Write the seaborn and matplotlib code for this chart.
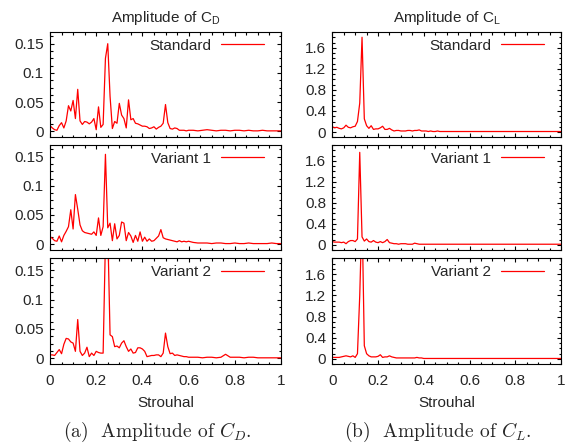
import numpy as np
import matplotlib
matplotlib.use("Agg")
import matplotlib.pyplot as plt
import seaborn as sns
from matplotlib.ticker import MultipleLocator, FuncFormatter

# Strouhal grid: 0.01 steps up to 0.6, 0.02 steps in the flat tail
strouhal = np.round(np.r_[np.arange(0, 0.605, 0.01), np.arange(0.62, 1.005, 0.02)], 2)

cd_standard = [
    0.010, 0.006, 0.003, 0.002, 0.010, 0.015, 0.006, 0.018, 0.044, 0.035,
    0.053, 0.022, 0.072, 0.018, 0.012, 0.017, 0.016, 0.013, 0.016, 0.022,
    0.003, 0.042, 0.007, 0.012, 0.125, 0.150, 0.060, 0.005, 0.017, 0.014,
    0.048, 0.028, 0.022, 0.006, 0.054, 0.020, 0.022, 0.014, 0.013, 0.011,
    0.009, 0.009, 0.008, 0.005, 0.006, 0.008, 0.004, 0.007, 0.009, 0.014,
    0.046, 0.015, 0.005, 0.004, 0.006, 0.005, 0.002, 0.002, 0.002, 0.001, 0.002,
    0.002, 0.001, 0.002, 0.003, 0.002, 0.001, 0.002, 0.002, 0.001, 0.002,
    0.002, 0.001, 0.002, 0.001, 0.001, 0.002, 0.001, 0.001, 0.001, 0.001]
cd_variant1 = [
    0.013, 0.010, 0.006, 0.005, 0.014, 0.004, 0.015, 0.022, 0.030, 0.059,
    0.026, 0.085, 0.060, 0.033, 0.023, 0.020, 0.019, 0.018, 0.017, 0.021,
    0.015, 0.045, 0.015, 0.030, 0.154, 0.028, 0.036, 0.006, 0.035, 0.009,
    0.015, 0.038, 0.036, 0.006, 0.020, 0.014, 0.003, 0.015, 0.005, 0.021,
    0.005, 0.012, 0.005, 0.009, 0.005, 0.006, 0.010, 0.014, 0.025, 0.011,
    0.009, 0.008, 0.007, 0.006, 0.005, 0.004, 0.006, 0.004, 0.005, 0.004, 0.005,
    0.003, 0.002, 0.002, 0.002, 0.001, 0.002, 0.002, 0.001, 0.001, 0.002,
    0.001, 0.001, 0.002, 0.001, 0.001, 0.001, 0.001, 0.002, 0.001, 0.001]
cd_variant2 = [
    0.006, 0.006, 0.005, 0.010, 0.015, 0.008, 0.024, 0.034, 0.033, 0.028,
    0.026, 0.012, 0.066, 0.012, 0.005, 0.009, 0.019, 0.003, 0.009, 0.005,
    0.012, 0.010, 0.009, 0.009, 0.200, 0.220, 0.040, 0.037, 0.020, 0.021,
    0.018, 0.026, 0.030, 0.020, 0.012, 0.016, 0.009, 0.010, 0.018, 0.018,
    0.016, 0.012, 0.003, 0.004, 0.005, 0.005, 0.006, 0.006, 0.003, 0.009,
    0.043, 0.020, 0.008, 0.009, 0.005, 0.006, 0.005, 0.004, 0.003, 0.003, 0.002,
    0.002, 0.002, 0.001, 0.002, 0.002, 0.001, 0.002, 0.007, 0.002, 0.002,
    0.002, 0.001, 0.002, 0.002, 0.001, 0.001, 0.001, 0.001, 0.001, 0.001]

cl_standard = [
    0.10, 0.08, 0.09, 0.07, 0.06, 0.08, 0.13, 0.09, 0.08, 0.10,
    0.11, 0.20, 0.55, 1.80, 0.25, 0.12, 0.07, 0.12, 0.05, 0.06,
    0.06, 0.08, 0.11, 0.05, 0.05, 0.07, 0.04, 0.02, 0.03, 0.03,
    0.02, 0.02, 0.02, 0.03, 0.03, 0.02, 0.03, 0.03, 0.04, 0.02,
    0.02, 0.02, 0.01, 0.02, 0.01, 0.01, 0.02, 0.01, 0.01, 0.01,
    0.01, 0.01, 0.01, 0.01, 0.01, 0.01, 0.01, 0.01, 0.01, 0.01, 0.01,
    0.01, 0.01, 0.01, 0.01, 0.01, 0.01, 0.01, 0.01, 0.01, 0.01,
    0.01, 0.01, 0.01, 0.01, 0.01, 0.01, 0.01, 0.01, 0.01, 0.01]
cl_variant1 = [
    0.06, 0.05, 0.05, 0.05, 0.04, 0.05, 0.02, 0.06, 0.08, 0.08,
    0.06, 0.11, 1.76, 0.15, 0.07, 0.11, 0.06, 0.05, 0.08, 0.05,
    0.04, 0.06, 0.04, 0.06, 0.10, 0.04, 0.03, 0.02, 0.02, 0.01,
    0.02, 0.02, 0.02, 0.01, 0.01, 0.01, 0.03, 0.02, 0.01, 0.01,
    0.01, 0.01, 0.01, 0.01, 0.01, 0.01, 0.01, 0.01, 0.01, 0.01,
    0.01, 0.01, 0.01, 0.01, 0.01, 0.01, 0.01, 0.01, 0.01, 0.01, 0.01,
    0.01, 0.01, 0.01, 0.01, 0.01, 0.01, 0.01, 0.01, 0.01, 0.01,
    0.01, 0.01, 0.01, 0.01, 0.01, 0.01, 0.01, 0.01, 0.01, 0.01]
cl_variant2 = [
    0.03, 0.03, 0.03, 0.03, 0.04, 0.05, 0.06, 0.05, 0.04, 0.06,
    0.03, 0.10, 1.20, 2.80, 0.25, 0.10, 0.06, 0.04, 0.04, 0.04,
    0.05, 0.08, 0.03, 0.04, 0.04, 0.06, 0.04, 0.03, 0.02, 0.02,
    0.02, 0.02, 0.02, 0.02, 0.02, 0.02, 0.02, 0.03, 0.02, 0.02,
    0.01, 0.01, 0.01, 0.01, 0.01, 0.01, 0.01, 0.01, 0.01, 0.01,
    0.01, 0.01, 0.01, 0.01, 0.01, 0.01, 0.01, 0.01, 0.01, 0.01, 0.01,
    0.01, 0.01, 0.01, 0.01, 0.01, 0.01, 0.01, 0.01, 0.01, 0.01,
    0.01, 0.01, 0.01, 0.01, 0.01, 0.01, 0.01, 0.01, 0.01, 0.01]

variants = ["Standard", "Variant 1", "Variant 2"]
cd_series = [cd_standard, cd_variant1, cd_variant2]
cl_series = [cl_standard, cl_variant1, cl_variant2]

sns.set_style("ticks")
plt.rcParams["font.family"] = ["Liberation Sans", "DejaVu Sans"]

fig = plt.figure(figsize=(5.67, 4.47), dpi=100)
W, H = 567, 447
rows_px = [(32, 137.3), (145, 250), (258.3, 364.3)]
cols_px = [(50, 281), (332.3, 561)]
FS = 11


def fmt(v, pos):
    return "%g" % round(v, 3)


for c, (series, ylim, major, minor, title) in enumerate([
        (cd_series, (-0.01, 0.17), 0.05, 0.0125, r"Amplitude of C$_\mathregular{D}$"),
        (cl_series, (-0.1, 1.9), 0.4, 0.1, r"Amplitude of C$_\mathregular{L}$")]):
    x0, x1 = cols_px[c]
    for r in range(3):
        y0, y1 = rows_px[r]
        ax = fig.add_axes([x0 / W, 1 - y1 / H, (x1 - x0) / W, (y1 - y0) / H])
        sns.lineplot(x=strouhal, y=series[r], color="#ff0000", lw=0.9, ax=ax,
                     label=variants[r])
        ax.set_xlim(0, 1)
        ax.set_ylim(*ylim)
        ax.xaxis.set_major_locator(MultipleLocator(0.2))
        ax.xaxis.set_minor_locator(MultipleLocator(0.05))
        ax.yaxis.set_major_locator(MultipleLocator(major))
        ax.yaxis.set_minor_locator(MultipleLocator(minor))
        ax.yaxis.set_major_formatter(FuncFormatter(fmt))
        ax.xaxis.set_major_formatter(FuncFormatter(fmt))
        ax.tick_params(which="both", direction="in", top=True, right=True,
                       color="black", width=0.8)
        ax.tick_params(which="major", length=3.2)
        ax.tick_params(which="minor", length=1.8)
        ax.tick_params(axis="y", labelsize=FS, pad=4.5)
        ax.tick_params(axis="x", labelsize=FS, pad=7)
        for s in ax.spines.values():
            s.set_linewidth(0.8)
            s.set_color("black")
        ax.set_ylabel("")
        if r < 2:
            ax.tick_params(axis="x", labelbottom=False)
            ax.set_xlabel("")
        else:
            ax.set_xlabel("Strouhal", fontsize=FS, labelpad=6)
        if r == 0:
            ax.set_title(title, fontsize=FS, pad=7)
        ax.legend(loc="upper right", bbox_to_anchor=(0.925, 0.935), frameon=False,
                  markerfirst=False, fontsize=FS, handlelength=2.8,
                  handletextpad=0.65, borderpad=0, borderaxespad=0)

fig.text(157.5 / W, 1 - 431.7 / H, r"(a)  Amplitude of $C_D$.", family="cmr10",
         math_fontfamily="cm", fontsize=14, ha="center", va="center")
fig.text(437.5 / W, 1 - 431.7 / H, r"(b)  Amplitude of $C_L$.", family="cmr10",
         math_fontfamily="cm", fontsize=14, ha="center", va="center")

fig.savefig("out.png", dpi=100)
